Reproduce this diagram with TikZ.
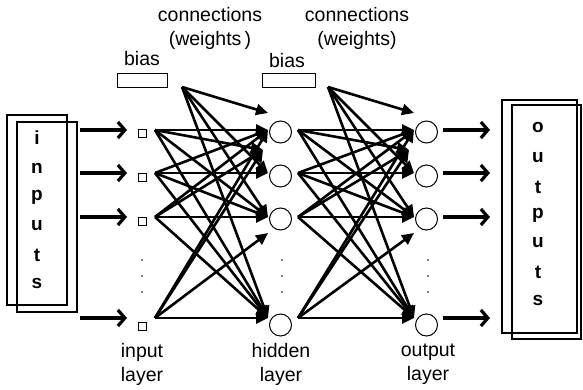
\documentclass[tikz,border=0pt]{standalone}
\usepackage{fontspec}
\setmainfont{Liberation Sans}
\usetikzlibrary{arrows.meta}
\begin{document}
\begin{tikzpicture}[x=1pt,y=-1pt,
 conn/.style={line width=2.6pt,-{Triangle[length=12pt,width=11pt]}},
 io/.style={line width=3.2pt,-{Straight Barb[length=7pt,width=16pt]}},
 frame/.style={draw,line width=2.8pt,inner sep=0pt},
 neuron/.style={circle,draw,line width=1pt,minimum size=22pt,inner sep=0pt},
 unit/.style={rectangle,draw,line width=0.9pt,minimum size=8pt,inner sep=0pt},
 biasbox/.style={rectangle,draw,line width=0.9pt,minimum height=14pt,inner sep=0pt},
 lbl/.style={font=\fontsize{19.5}{24}\selectfont,align=center,inner sep=0pt},
 letter/.style={font=\fontsize{19}{19}\selectfont\bfseries,inner sep=0pt},
 dotmark/.style={circle,fill,inner sep=0pt,minimum size=1.8pt}]
\useasboundingbox (0,0) rectangle (583,390);

% input frames and letters
\node[frame,minimum width=60pt,minimum height=190pt] (inA) at (37,210) {};
\node[frame,minimum width=60pt,minimum height=190pt] (inB) at (47,217) {};
\foreach \l/\y [count=\k] in {i/138,n/168,p/197,u/226,t/255,s/283}
  \node[letter] (li\k) at (37,\y) {\l};

% output frames and letters
\node[frame,minimum width=75pt,minimum height=233pt] (outA) at (539.5,216.5) {};
\node[frame,minimum width=69pt,minimum height=234pt] (outB) at (546.5,222) {};
\foreach \l/\y [count=\k] in {o/127,u/158,t/187,p/215,u/243,t/272,s/300}
  \node[letter] (lo\k) at (538,\y) {\l};

% units
\foreach \k/\y in {1/133,2/177,3/221,4/326}
  \node[unit] (in\k) at (142,\y) {};
\foreach \k/\y in {1/132,2/176,3/219,4/325}{
  \node[neuron] (h\k) at (280.5,\y) {};
  \node[neuron] (o\k) at (426.5,\y) {};
}
\foreach \y [count=\k] in {260,276,292}{
  \node[dotmark] (di\k) at (142,\y) {};
  \node[dotmark] (dh\k) at (282,\y) {};
  \node[dotmark] (do\k) at (428,\y) {};
}

% bias
\node[biasbox,minimum width=50pt] (bb1) at (142.5,80) {};
\node[biasbox,minimum width=53pt] (bb2) at (288.5,80) {};
\node[lbl] (bt1) at (142,59) {bias};
\node[lbl] (bt2) at (287,61) {bias};

% headings
\node[lbl] (cw1) at (210,28) {connections\\(weights\,)};
\node[lbl] (cw2) at (357,28) {connections\\(weights)};
\node[lbl] (li) at (142,364) {input\\layer};
\node[lbl] (lh) at (281,364) {hidden\\layer};
\node[lbl] (lo) at (428,364) {output\\layer};

% coordinates
\foreach \i/\y in {1/130,2/173,3/217,4/318}{
  \coordinate (ia\i) at (80,\y);
  \coordinate (ib\i) at (127,\y);
  \coordinate (a\i) at (155,\y);
  \coordinate (p\i) at (268,\y);
  \coordinate (c\i) at (298,\y);
  \coordinate (q\i) at (414,\y);
  \coordinate (oa\i) at (443,\y);
  \coordinate (ob\i) at (490,\y);
}
\coordinate (b1) at (182,87);
\coordinate (b2) at (328,87);
\coordinate (pA) at (268,113);
\coordinate (pX) at (263,150);
\coordinate (pB) at (268,233);
\coordinate (qA) at (414,113);
\coordinate (qX) at (409,150);
\coordinate (qB) at (414,233);

% input and output arrows
\foreach \i in {1,2,3,4}{
  \draw[io] (ia\i) -- (ib\i);
  \draw[io] (oa\i) -- (ob\i);
}

% connections layer 1
\foreach \s/\t in {b1/pA,b1/p2,b1/p3,b1/p4,
                   a1/p1,a1/pX,a1/p3,a1/p4,
                   a2/p1,a2/p2,a2/p3,a2/p4,
                   a3/p1,a3/pX,a3/p3,a3/p4,
                   a4/p1,a4/pX,a4/pB,a4/p4}
  \draw[conn] (\s) -- (\t);
% connections layer 2
\foreach \s/\t in {b2/qA,b2/q2,b2/q3,b2/q4,
                   c1/q1,c1/qX,c1/q3,c1/q4,
                   c2/q1,c2/q2,c2/q3,c2/q4,
                   c3/q1,c3/qX,c3/q3,c3/q4,
                   c4/q1,c4/qX,c4/qB,c4/q4}
  \draw[conn] (\s) -- (\t);
\end{tikzpicture}
\end{document}
